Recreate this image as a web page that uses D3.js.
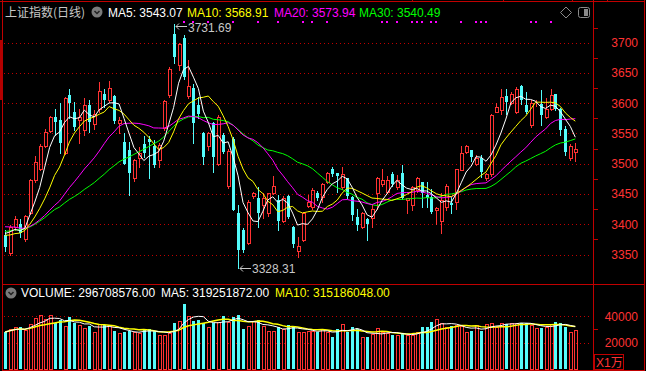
<!DOCTYPE html>
<html>
<head>
<meta charset="utf-8">
<script src="https://cdn.jsdelivr.net/npm/d3@7"></script>
<style>
html, body { margin: 0; padding: 0; background: #000; overflow: hidden; }
text { font-family: "Liberation Sans", Arial, sans-serif; }
</style>
</head>
<body>
<script>
// daily candles, oldest first
var opens = [3383,3352,3395,3400,3376,3419,3473,3492,3530,3554,3578,3572,3518,3613,3586,3572,3556,3597,3566,3590,
  3616,3605,3612,3568,3536,3522,3477,3510,3532,3541,3530,3506,3559,3613,3715,3663,3707,3612,3625,3597,
  3550,3529,3567,3500,3548,3463,3541,3418,3390,3369,3446,3443,3432,3418,3452,3440,3406,3446,3396,3355,
  3374,3430,3429,3452,3445,3470,3492,3484,3462,3476,3445,3412,3396,3409,3410,3451,3466,3454,3483,3462,
  3484,3440,3431,3456,3469,3448,3445,3424,3406,3429,3435,3437,3490,3519,3522,3500,3510,3476,3483,3586,
  3588,3612,3600,3586,3628,3597,3564,3600,3598,3578,3590,3615,3590,3558,3509,3520];
var highs = [3390,3398,3413,3408,3416,3475,3513,3532,3557,3579,3590,3600,3610,3623,3602,3590,3608,3605,3588,3635,
  3623,3637,3613,3578,3550,3536,3508,3528,3545,3545,3540,3534,3606,3660,3731.69,3700,3712,3671,3632,3611,
  3552,3553,3569,3580,3550,3525,3544,3432,3393,3440,3454,3462,3452,3452,3479,3448,3446,3449,3397,3379,
  3420,3448,3460,3455,3468,3487,3495,3485,3495,3477,3447,3426,3421,3410,3432,3478,3492,3480,3487,3481,
  3498,3444,3463,3478,3470,3470,3459,3428,3451,3466,3445,3492,3529,3531,3523,3514,3514,3485,3583,3600,
  3624,3623,3618,3626,3630,3619,3605,3606,3622,3608,3623,3616,3592,3562,3533,3534];
var lows = [3355,3350,3390,3379,3373,3417,3470,3490,3528,3552,3547,3518,3516,3575,3556,3535,3547,3553,3558,3586,
  3594,3602,3567,3550,3500,3448,3472,3495,3511,3477,3495,3495,3555,3610,3666,3655,3640,3609,3534,3575,
  3500,3522,3487,3498,3517,3460,3423,3328.31,3354,3367,3444,3396,3410,3414,3450,3390,3404,3410,3362,3346,
  3372,3428,3425,3440,3437,3468,3480,3454,3459,3444,3407,3390,3393,3374,3396,3426,3464,3451,3463,3459,
  3441,3419,3423,3454,3429,3429,3418,3401,3385,3423,3418,3426,3489,3517,3505,3498,3478,3473,3480,3585,
  3582,3583,3598,3584,3598,3584,3561,3595,3564,3575,3588,3588,3547,3514,3506,3505];
var closes = [3363,3396,3408,3385,3414,3473,3503,3529,3553,3577,3569,3534,3608,3600,3561,3577,3597,3569,3583,3620,
  3605,3625,3571,3573,3500,3484,3506,3518,3518,3536,3498,3531,3603,3656,3677,3698,3644,3629,3567,3583,
  3511,3551,3511,3578,3520,3521,3423,3358,3357,3437,3452,3418,3443,3451,3463,3406,3443,3412,3368,3364,
  3418,3437,3457,3443,3467,3484,3483,3479,3483,3446,3415,3398,3418,3401,3426,3477,3473,3473,3466,3473,
  3443,3443,3462,3476,3451,3443,3420,3427,3440,3463,3432,3491,3517,3529,3511,3510,3487,3483,3581,3593,
  3610,3602,3616,3624,3605,3586,3600,3601,3580,3590,3613,3591,3555,3519,3530,3524];
// volume, x1万
var volumes = [27900,29900,31400,31400,29400,33900,38200,40800,37500,40800,34400,37000,32400,39000,34900,33200,30600,32400,28100,33900,
  33200,33200,28600,26800,28100,28900,28100,26800,29900,29900,28900,25600,25600,26800,34400,36200,49100,40000,36500,37000,
  34900,31900,34900,35700,40000,35700,39500,40800,30100,32400,36200,37000,32400,28600,28600,31400,29900,33200,31900,28100,
  28100,28900,28900,28100,29900,28100,24300,29900,33900,28100,31400,29900,23800,23800,26100,30600,28100,27400,25600,25600,
  27400,25600,25600,27600,31400,31400,35200,37500,34900,31400,32400,33200,32400,27600,28600,33200,28600,33900,34400,31900,
  34900,33900,34900,34900,34900,34400,33200,30600,30600,31900,33900,35700,34900,31900,28100,29670];
// closes before the first visible day, only used to start the moving averages
var earlierCloses = [3360,3366,3372,3380,3376,3368,3372,3378,3370,3378,
  3404,3412,3418,3420,3414,3408,3404,3410,3406,3404,
  3392,3385,3376,3370,3372,3382,3388,3394,3396];

var priceTicks = [3350, 3400, 3450, 3500, 3550, 3600, 3650, 3700];
var volumeTicks = [20000, 40000];
var markerDays = [36, 38, 41, 46, 51, 55, 60, 62, 65, 76, 77, 79, 82, 83, 84, 86, 87, 92, 95, 96, 97, 106, 107, 110];

var width = 646, height = 371;
var BORDER = '#c00000', GRID = '#c00000', AXIS = '#ff3333';
var UP = '#ff3232', DOWN = '#54fcfc';

function movingAvg(values, seed, n) {
  var all = seed.concat(values);
  return values.map(function (_, i) {
    var end = seed.length + i + 1;
    return d3.mean(all.slice(Math.max(0, end - n), end));
  });
}

var svg = d3.select('body').append('svg')
  .attr('width', width)
  .attr('height', height)
  .style('display', 'block')
  .style('background', '#000');

var n = closes.length;
var x = d3.scaleLinear().domain([0, n - 1]).range([5, 575.3]);
var y = d3.scaleLinear().domain([3350, 3700]).range([254.5, 42.7]);
var yv = d3.scaleLinear().domain([0, 40000]).range([369, 316]);
function px(i) { return Math.round(x(i)); }

// frame
var frame = svg.append('g').attr('stroke', BORDER).attr('stroke-width', 1);
frame.append('line').attr('x1', 0).attr('x2', 645).attr('y1', 1.5).attr('y2', 1.5);
[412, 503, 572, 607].forEach(function (t) {
  frame.append('line').attr('x1', t + 0.5).attr('x2', t + 0.5).attr('y1', 0).attr('y2', 2);
});
frame.append('line').attr('x1', 2.5).attr('x2', 2.5).attr('y1', 0).attr('y2', height);
frame.append('line').attr('x1', 593.5).attr('x2', 593.5).attr('y1', 0).attr('y2', height);
frame.append('line').attr('x1', 644.5).attr('x2', 644.5).attr('y1', 0).attr('y2', height);
frame.append('line').attr('x1', 2).attr('x2', 645).attr('y1', 284.5).attr('y2', 284.5);
frame.append('line').attr('x1', 2).attr('x2', 645).attr('y1', 370.5).attr('y2', 370.5);
svg.append('rect').attr('x', 0).attr('y', 40).attr('width', 3).attr('height', 60).attr('fill', '#b40000');

// grid
svg.append('g').selectAll('line').data(priceTicks).enter().append('line')
  .attr('x1', 4).attr('x2', 592)
  .attr('y1', function (d) { return Math.round(y(d)) + 0.5; })
  .attr('y2', function (d) { return Math.round(y(d)) + 0.5; })
  .attr('stroke', GRID).attr('stroke-dasharray', '1,3');
svg.append('g').selectAll('line').data(volumeTicks).enter().append('line')
  .attr('x1', 4).attr('x2', 592)
  .attr('y1', function (d) { return Math.round(yv(d)) + 0.5; })
  .attr('y2', function (d) { return Math.round(yv(d)) + 0.5; })
  .attr('stroke', GRID).attr('stroke-dasharray', '1,3');

// right axes
var axisG = svg.append('g');
axisG.selectAll('text.p').data(priceTicks).enter().append('text')
  .attr('x', 638).attr('y', function (d) { return y(d) + 4.5; })
  .attr('text-anchor', 'end').attr('font-size', 12).attr('fill', AXIS)
  .text(function (d) { return d; });
axisG.selectAll('line.p').data(priceTicks.map(function (d) { return d + 25; })).enter().append('line')
  .attr('x1', 594).attr('x2', 598)
  .attr('y1', function (d) { return Math.round(y(d)) + 0.5; })
  .attr('y2', function (d) { return Math.round(y(d)) + 0.5; })
  .attr('stroke', BORDER);
axisG.selectAll('text.v').data(volumeTicks).enter().append('text')
  .attr('x', 638).attr('y', function (d) { return yv(d) + 4.5; })
  .attr('text-anchor', 'end').attr('font-size', 12).attr('fill', AXIS)
  .text(function (d) { return d; });
axisG.append('line').attr('x1', 594).attr('x2', 598)
  .attr('y1', Math.round(yv(30000)) + 0.5).attr('y2', Math.round(yv(30000)) + 0.5).attr('stroke', BORDER);
axisG.append('rect').attr('x', 594.5).attr('y', 354.5).attr('width', 29).attr('height', 15)
  .attr('fill', 'none').attr('stroke', BORDER);
axisG.append('text').attr('x', 596).attr('y', 366.5).attr('font-size', 12).attr('fill', AXIS)
  .style('font-family', '"Liberation Sans", "Noto Sans CJK SC", sans-serif').text('X1万');

// candles
function drawBars(g, data, top, bottom) {
  data.forEach(function (d) {
    var cx = px(d.i);
    var t = Math.round(top(d)), b = Math.round(bottom(d));
    if (d.up) {
      if (d.hi !== undefined) {
        g.append('line').attr('x1', cx + 0.5).attr('x2', cx + 0.5).attr('y1', Math.round(d.hi)).attr('y2', t)
          .attr('stroke', UP);
        g.append('line').attr('x1', cx + 0.5).attr('x2', cx + 0.5).attr('y1', b).attr('y2', Math.round(d.lo) + 1)
          .attr('stroke', UP);
      }
      g.append('rect').attr('x', cx - 0.5).attr('y', t + 0.5).attr('width', 3).attr('height', Math.max(0, b - t))
        .attr('fill', 'none').attr('stroke', UP);
    } else {
      if (d.hi !== undefined) {
        g.append('line').attr('x1', cx + 0.5).attr('x2', cx + 0.5).attr('y1', Math.round(d.hi)).attr('y2', Math.round(d.lo) + 1)
          .attr('stroke', DOWN);
      }
      g.append('rect').attr('x', cx - 1).attr('y', t).attr('width', 3).attr('height', Math.max(1, b - t))
        .attr('fill', DOWN);
    }
  });
}

var candles = closes.map(function (c, i) {
  return { i: i, up: c >= opens[i], hi: y(highs[i]), lo: y(lows[i]),
    o: y(opens[i]), c: y(c) };
});
drawBars(svg.append('g'), candles,
  function (d) { return Math.min(d.o, d.c); },
  function (d) { return Math.max(d.o, d.c); });

var volBars = volumes.map(function (v, i) {
  return { i: i, up: closes[i] >= opens[i], v: yv(v) };
});
drawBars(svg.append('g'), volBars,
  function (d) { return d.v; },
  function () { return 369; });

// moving averages
var line = d3.line().x(function (d, i) { return x(i); });
var maSpecs = [
  { n: 30, color: '#00ff00' },
  { n: 20, color: '#ff00ff' },
  { n: 10, color: '#ffff00' },
  { n: 5, color: '#ffffff' }
];
maSpecs.forEach(function (s) {
  var ma = movingAvg(closes, earlierCloses, s.n);
  svg.append('path').datum(ma)
    .attr('d', line.y(function (d) { return y(d); }))
    .attr('fill', 'none').attr('stroke', s.color).attr('stroke-width', 1);
});
[{ n: 10, color: '#ffff00', w: 1.5 }, { n: 5, color: '#ffffff', w: 1 }].forEach(function (s) {
  var ma = movingAvg(volumes, [], s.n);
  svg.append('path').datum(ma)
    .attr('d', line.y(function (d) { return yv(d); }))
    .attr('fill', 'none').attr('stroke', s.color).attr('stroke-width', s.w);
});

// top markers
svg.append('g').selectAll('rect').data(markerDays).enter().append('rect')
  .attr('x', function (d) { return px(d) - 1; }).attr('y', 21)
  .attr('width', 2).attr('height', 2).attr('fill', '#ff00ff');

// extreme labels
var hiIdx = d3.maxIndex(highs), loIdx = d3.minIndex(lows);
function extreme(i, yy, label, ty) {
  var x0 = px(i) + 2;
  var g = svg.append('g').attr('stroke', '#c8c8c8').attr('fill', 'none');
  g.append('line').attr('x1', x0).attr('x2', x0 + 11).attr('y1', yy + 0.5).attr('y2', yy + 0.5);
  g.append('path').attr('d', 'M' + (x0 + 3) + ',' + (yy - 2.5) + 'L' + x0 + ',' + (yy + 0.5) + 'L' + (x0 + 3) + ',' + (yy + 3.5));
  svg.append('text').attr('x', x0 + 12).attr('y', ty).attr('font-size', 12).attr('fill', '#c8c8c8').text(label);
}
extreme(hiIdx, Math.round(y(highs[hiIdx])) + 2, highs[hiIdx].toFixed(2), 32);
extreme(loIdx, Math.round(y(lows[loIdx])), lows[loIdx].toFixed(2), 272.5);

// header
function icon(cx, cy) {
  svg.append('circle').attr('cx', cx).attr('cy', cy).attr('r', 5.5).attr('fill', '#7a7a7a');
  svg.append('path').attr('d', 'M' + (cx - 2.5) + ',' + (cy - 1) + 'L' + cx + ',' + (cy + 1.5) + 'L' + (cx + 2.5) + ',' + (cy - 1))
    .attr('stroke', '#222').attr('stroke-width', 1.5).attr('fill', 'none');
}
svg.append('text').attr('x', 5).attr('y', 17).attr('font-size', 12).attr('fill', '#c8c8c8')
  .style('font-family', '"Noto Sans CJK SC", sans-serif').text('上证指数(日线)');
icon(97, 12);
var head = [
  { x: 108, t: 'MA5: 3543.07', c: '#ffffff' },
  { x: 187, t: 'MA10: 3568.91', c: '#ffff00' },
  { x: 274, t: 'MA20: 3573.94', c: '#ff00ff' },
  { x: 359, t: 'MA30: 3540.49', c: '#00ff00' }
];
svg.append('g').selectAll('text').data(head).enter().append('text')
  .attr('x', function (d) { return d.x; }).attr('y', 17).attr('font-size', 12)
  .attr('fill', function (d) { return d.c; }).text(function (d) { return d.t; });
svg.append('path').attr('d', 'M566,7L571.5,12.5L566,18L560.5,12.5Z').attr('fill', 'none').attr('stroke', '#8a8a8a');
svg.append('rect').attr('x', 578.5).attr('y', 7.5).attr('width', 11).attr('height', 10).attr('rx', 2)
  .attr('fill', 'none').attr('stroke', '#8a8a8a');
svg.append('rect').attr('x', 584).attr('y', 9).attr('width', 4).attr('height', 7).attr('fill', '#8a8a8a');

icon(11, 293);
var volHead = [
  { x: 21, t: 'VOLUME: 296708576.00', c: '#ffffff' },
  { x: 161, t: 'MA5: 319251872.00', c: '#ffffff' },
  { x: 275, t: 'MA10: 315186048.00', c: '#ffff00' }
];
svg.append('g').selectAll('text').data(volHead).enter().append('text')
  .attr('x', function (d) { return d.x; }).attr('y', 297).attr('font-size', 12)
  .attr('fill', function (d) { return d.c; }).text(function (d) { return d.t; });
</script>
</body>
</html>
